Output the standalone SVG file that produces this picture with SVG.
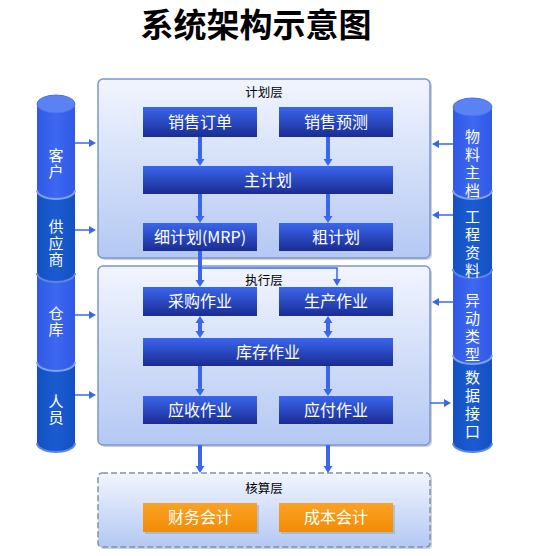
<svg xmlns="http://www.w3.org/2000/svg" width="545" height="556" viewBox="0 0 545 556">
<defs>
<style>
.t{font-family:"Noto Sans CJK SC","Liberation Sans",sans-serif}
.title{font-size:33px;font-weight:bold;fill:#000}
.lt{font-size:12.5px;fill:#000}
.bt{font-size:16px;fill:#fff}
.ct{font-size:15px;fill:#fff;writing-mode:vertical-rl;text-anchor:middle}
.cl{letter-spacing:1.5px}
.cr{letter-spacing:3px}
.layer{fill:url(#gLayer);stroke:#7d96cf;stroke-width:1.5}
.blue{fill:url(#gBlue)}
.org{fill:url(#gOrg)}
.sh{fill:#9aa3b5;opacity:0.5}
.thick{stroke:#3a66ee;stroke-width:4;fill:none}
.thin{stroke:#3a66ee;stroke-width:1.5;fill:none}
.light{fill:url(#gCylL)}
.dark{fill:url(#gCylD)}
.rimL{fill:none;stroke:#7fa0f4;stroke-width:2}
.rimD{fill:none;stroke:#5c86e6;stroke-width:2}
</style>
<linearGradient id="gLayer" x1="0" y1="0" x2="0" y2="1">
<stop offset="0" stop-color="#f1f5fe"/>
<stop offset="1" stop-color="#b4c8f3"/>
</linearGradient>
<linearGradient id="gBlue" x1="0" y1="0" x2="0" y2="1">
<stop offset="0" stop-color="#3a66ee"/>
<stop offset="1" stop-color="#1a2c92"/>
</linearGradient>
<linearGradient id="gOrg" x1="0" y1="0" x2="0" y2="1">
<stop offset="0" stop-color="#fba224"/>
<stop offset="1" stop-color="#f28c05"/>
</linearGradient>
<linearGradient id="gCylL" x1="0" y1="0" x2="1" y2="0">
<stop offset="0" stop-color="#3059e6"/>
<stop offset="0.5" stop-color="#3d68f0"/>
<stop offset="1" stop-color="#3059e6"/>
</linearGradient>
<linearGradient id="gCylD" x1="0" y1="0" x2="1" y2="0">
<stop offset="0" stop-color="#1450c2"/>
<stop offset="0.5" stop-color="#1a5cd2"/>
<stop offset="1" stop-color="#1450c2"/>
</linearGradient>
<marker id="ah" markerUnits="userSpaceOnUse" markerWidth="10" markerHeight="10" refX="1" refY="5" orient="auto-start-reverse">
<path d="M0,0.5 L7,5 L0,9.5 z" fill="#3a66ee"/>
</marker>
<marker id="ahs" markerUnits="userSpaceOnUse" markerWidth="9" markerHeight="9" refX="1" refY="4" orient="auto">
<path d="M0,0 L7,4 L0,8 z" fill="#3a66ee"/>
</marker>
</defs>
<rect width="545" height="556" fill="#fff"/>
<text class="t title" x="256" y="37" text-anchor="middle">系统架构示意图</text>

<!-- Layers -->
<g id="plan-layer">
<rect x="100" y="81" width="332" height="179" rx="5" class="sh"/>
<rect x="98" y="79" width="332" height="179" rx="5" class="layer"/>
<text class="t lt" x="264" y="97" text-anchor="middle">计划层</text>
</g>
<g id="exec-layer">
<rect x="100" y="268" width="332" height="179" rx="5" class="sh"/>
<rect x="98" y="266" width="332" height="179" rx="5" class="layer"/>
<text class="t lt" x="264" y="285" text-anchor="middle">执行层</text>
</g>
<g id="acct-layer">
<rect x="100" y="475" width="332" height="74" rx="4" class="sh"/>
<rect x="98" y="473" width="332" height="74" rx="4" fill="url(#gLayer)" stroke="#8390ab" stroke-width="1.5" stroke-dasharray="6,3"/>
<text class="t lt" x="264" y="493" text-anchor="middle">核算层</text>
</g>

<!-- Blue boxes -->
<g id="sales-order"><rect x="143" y="107" width="114" height="30" class="blue"/><text class="t bt" x="200" y="128" text-anchor="middle">销售订单</text></g>
<g id="sales-forecast"><rect x="279" y="107" width="114" height="30" class="blue"/><text class="t bt" x="336" y="128" text-anchor="middle">销售预测</text></g>
<g id="master-plan"><rect x="143" y="166" width="250" height="28" class="blue"/><text class="t bt" x="268" y="186" text-anchor="middle">主计划</text></g>
<g id="mrp"><rect x="143" y="223" width="114" height="28" class="blue"/><text class="t bt" x="200" y="243" text-anchor="middle">细计划(MRP)</text></g>
<g id="rough-plan"><rect x="279" y="223" width="114" height="28" class="blue"/><text class="t bt" x="336" y="243" text-anchor="middle">粗计划</text></g>
<g id="purchase"><rect x="143" y="287" width="114" height="29" class="blue"/><text class="t bt" x="200" y="307" text-anchor="middle">采购作业</text></g>
<g id="production"><rect x="279" y="287" width="114" height="29" class="blue"/><text class="t bt" x="336" y="307" text-anchor="middle">生产作业</text></g>
<g id="inventory"><rect x="143" y="338" width="250" height="28" class="blue"/><text class="t bt" x="268" y="358" text-anchor="middle">库存作业</text></g>
<g id="receivable"><rect x="143" y="396" width="114" height="28" class="blue"/><text class="t bt" x="200" y="416" text-anchor="middle">应收作业</text></g>
<g id="payable"><rect x="279" y="396" width="114" height="28" class="blue"/><text class="t bt" x="336" y="416" text-anchor="middle">应付作业</text></g>

<!-- Orange boxes -->
<g id="finance"><rect x="145" y="505" width="114" height="29" class="sh"/><rect x="143" y="503" width="114" height="29" class="org"/><text class="t bt" x="200" y="523" text-anchor="middle">财务会计</text></g>
<g id="cost"><rect x="281" y="505" width="114" height="29" class="sh"/><rect x="279" y="503" width="114" height="29" class="org"/><text class="t bt" x="336" y="523" text-anchor="middle">成本会计</text></g>

<!-- Left cylinder -->
<g id="personnel">
<path d="M37,362 L37,443 A19,9 0 0 0 75,443 L75,362 Z" class="dark"/>
<path d="M37,443 A19,9 0 0 0 75,443" class="rimD"/>
<text class="t ct cl" x="56" y="410">人员</text>
</g>
<g id="warehouse">
<path d="M37,273 L37,362 A19,9 0 0 0 75,362 L75,273 Z" class="light"/>
<path d="M37,362 A19,9 0 0 0 75,362" class="rimL"/>
<text class="t ct cl" x="56" y="322">仓库</text>
</g>
<g id="supplier">
<path d="M37,190 L37,273 A19,9 0 0 0 75,273 L75,190 Z" class="dark"/>
<path d="M37,273 A19,9 0 0 0 75,273" class="rimD"/>
<text class="t ct cl" x="56" y="244">供应商</text>
</g>
<g id="customer">
<path d="M37,104 L37,190 A19,9 0 0 0 75,190 L75,104 Z" class="light"/>
<path d="M37,190 A19,9 0 0 0 75,190" class="rimL"/>
<ellipse cx="56" cy="104" rx="19" ry="9" fill="#5a82f4" stroke="#4a72ee" stroke-width="1"/>
<text class="t ct cl" x="56" y="164">客户</text>
</g>

<!-- Right cylinder -->
<g id="data-interface">
<path d="M453,355 L453,443 A19.5,9 0 0 0 492,443 L492,355 Z" class="dark"/>
<path d="M453,443 A19.5,9 0 0 0 492,443" class="rimD"/>
<text class="t ct cr" x="472.5" y="406">数据接口</text>
</g>
<g id="change-type">
<path d="M453,269 L453,355 A19.5,9 0 0 0 492,355 L492,269 Z" class="light"/>
<path d="M453,355 A19.5,9 0 0 0 492,355" class="rimL"/>
<text class="t ct cr" x="472.5" y="329">异动类型</text>
</g>
<g id="engineering">
<path d="M453,190 L453,269 A19.5,9 0 0 0 492,269 L492,190 Z" class="dark"/>
<path d="M453,269 A19.5,9 0 0 0 492,269" class="rimD"/>
<text class="t ct cr" x="472.5" y="245">工程资料</text>
</g>
<g id="material-master">
<path d="M453,107 L453,190 A19.5,9 0 0 0 492,190 L492,107 Z" class="light"/>
<path d="M453,190 A19.5,9 0 0 0 492,190" class="rimL"/>
<ellipse cx="472.5" cy="107" rx="19.5" ry="9" fill="#5a82f4" stroke="#4a72ee" stroke-width="1"/>
<text class="t ct cr" x="472.5" y="165">物料主档</text>
</g>

<!-- Connectors -->
<g id="connectors">
<line x1="200" y1="137" x2="200" y2="160" class="thick" marker-end="url(#ah)"/>
<line x1="328" y1="137" x2="328" y2="160" class="thick" marker-end="url(#ah)"/>
<line x1="200" y1="194" x2="200" y2="217" class="thick" marker-end="url(#ah)"/>
<line x1="328" y1="194" x2="328" y2="217" class="thick" marker-end="url(#ah)"/>
<line x1="200" y1="251" x2="200" y2="281" class="thick" marker-end="url(#ah)"/>
<polyline points="200,268 337,268 337,280" class="thin" marker-end="url(#ahs)"/>
<line x1="200" y1="322" x2="200" y2="332" class="thick" marker-start="url(#ah)" marker-end="url(#ah)"/>
<line x1="328" y1="322" x2="328" y2="332" class="thick" marker-start="url(#ah)" marker-end="url(#ah)"/>
<line x1="200" y1="366" x2="200" y2="390" class="thick" marker-end="url(#ah)"/>
<line x1="328" y1="366" x2="328" y2="390" class="thick" marker-end="url(#ah)"/>
<line x1="200" y1="445" x2="200" y2="467" class="thick" marker-end="url(#ah)"/>
<line x1="328" y1="445" x2="328" y2="467" class="thick" marker-end="url(#ah)"/>
<line x1="75" y1="143" x2="90" y2="143" class="thin" marker-end="url(#ahs)"/>
<line x1="75" y1="230" x2="90" y2="230" class="thin" marker-end="url(#ahs)"/>
<line x1="75" y1="315" x2="90" y2="315" class="thin" marker-end="url(#ahs)"/>
<line x1="75" y1="395" x2="90" y2="395" class="thin" marker-end="url(#ahs)"/>
<line x1="453" y1="144" x2="438" y2="144" class="thin" marker-end="url(#ahs)"/>
<line x1="453" y1="215" x2="438" y2="215" class="thin" marker-end="url(#ahs)"/>
<line x1="453" y1="302" x2="438" y2="302" class="thin" marker-end="url(#ahs)"/>
<line x1="430" y1="403" x2="445" y2="403" class="thin" marker-end="url(#ahs)"/>
</g>
</svg>
